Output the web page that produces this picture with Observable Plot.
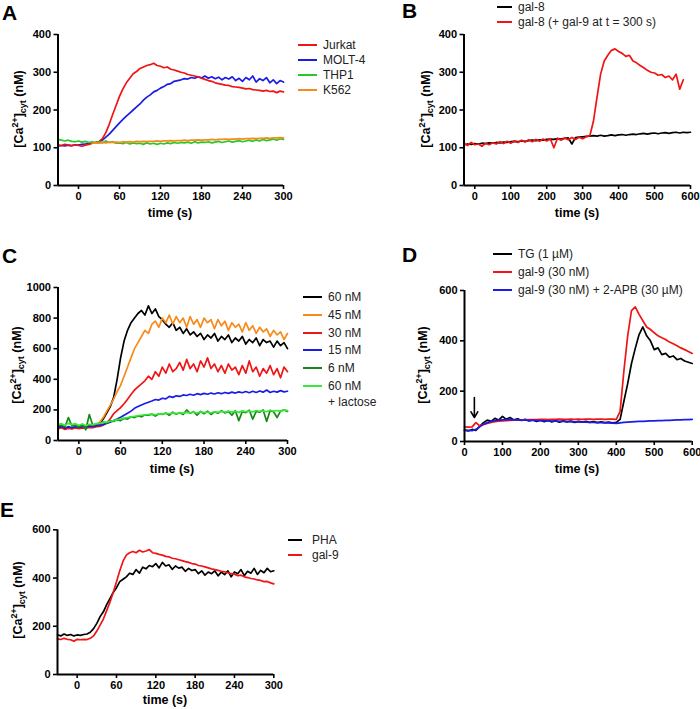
<!DOCTYPE html>
<html><head><meta charset="utf-8">
<script src="https://cdn.jsdelivr.net/npm/d3@7"></script>
<script src="https://cdn.jsdelivr.net/npm/@observablehq/plot@0.6"></script>
<style>
html,body{margin:0;padding:0;background:#fff;}
#fig{position:relative;width:700px;height:709px;font-family:"Liberation Sans",Arial,sans-serif;overflow:hidden;background:#fff;}
#fig svg{position:absolute;overflow:visible;}
.letter{position:absolute;font-weight:bold;font-size:21px;line-height:1;color:#000;}
.ylab{position:absolute;font-weight:bold;font-size:12.5px;white-space:nowrap;transform:translate(-50%,-50%) rotate(-90deg);line-height:1;color:#000;}
.ylab sup,.ylab sub{font-size:9px;line-height:0;}
.xlab{position:absolute;font-weight:bold;font-size:12.5px;transform:translate(-50%,-50%);white-space:nowrap;line-height:1;color:#000;}
.legt{position:absolute;font-size:12px;color:#222;white-space:nowrap;line-height:1;transform:translateY(-50%);}
.sw{position:absolute;height:2px;}
</style></head>
<body><div id="fig"></div>
<script>
// ---------- Panel A (time -30..300 s, step 5) ----------
const tA = d3.range(-30, 301, 5);
const jurkat = [108,106,109,107,105,108,
106,104,107,109,112,114,116,124,140,162,
188,212,236,256,272,284,296,302,310,314,
318,320,324,318,316,312,314,308,306,303,
300,298,294,292,290,288,284,281,278,276,
272,270,268,266,265,262,261,260,258,256,
257,254,253,252,250,252,249,250,246,250,
248];
const molt4 = [104,106,105,107,106,108,
107,109,110,111,112,114,116,120,128,136,
146,156,166,175,184,192,200,208,216,226,
234,240,248,252,258,262,268,270,276,278,
280,283,282,286,284,288,285,290,284,288,
283,287,280,286,282,288,278,284,276,286,
280,290,274,283,278,286,272,280,270,278,
274];
const thp1 = [122,120,118,120,117,116,
118,115,117,114,116,114,116,113,118,114,
116,112,113,111,114,110,113,111,112,109,
113,110,112,109,112,110,113,111,114,112,
114,113,115,112,116,113,115,114,116,113,
115,117,114,116,118,115,117,119,116,118,
120,117,121,118,122,119,121,123,120,124,
122];
const tK562 = d3.range(20, 301, 5);
const k562 = [112,113,112,114,113,115,114,115,
114,116,115,116,115,117,116,117,116,117,
117,118,117,118,118,119,118,119,119,120,
119,120,120,121,120,121,121,122,121,122,
122,123,122,123,123,124,123,124,124,125,
124,125,125,126,125,126,126,127,126];

// ---------- Panel B ----------
const tB8 = d3.range(-30, 601, 10);
const gal8 = [108,110,109,
111,110,112,111,113,112,114,113,115,114,
116,117,116,118,117,119,120,119,121,120,
122,123,122,124,123,125,126,110,127,128,
129,130,131,132,131,133,131,132,134,132,
134,135,133,135,136,135,137,138,136,138,
139,137,139,140,138,140,141,139,141,140,
141];
const tB9 = d3.range(-30, 581, 10);
const gal8gal9 = [112,106,114,
108,110,104,112,108,113,110,116,111,117,
112,118,114,120,115,121,116,122,117,123,
118,124,100,125,120,126,121,127,122,128,
124,129,132,170,234,295,330,345,358,362,
355,350,342,345,330,325,318,312,305,300,
298,292,294,286,290,280,295,255,280];

// ---------- Panel C (time -30..300 s, step 5) ----------
const tC = d3.range(-30, 301, 5);
const c60 = [80,95,75,90,78,88,
80,92,82,95,90,100,110,140,180,220,
280,400,540,650,720,770,800,830,850,820,
880,830,860,810,790,760,740,770,720,740,
700,730,690,710,680,700,660,690,670,700,
650,680,660,690,640,670,650,680,630,660,
640,670,620,660,640,650,610,650,620,640,
600];
const c45 = [85,80,88,78,86,82,
84,80,86,90,92,100,120,150,190,230,
270,320,360,420,480,540,600,640,680,720,
700,760,780,740,800,770,820,760,810,770,
800,740,810,760,790,740,800,770,790,730,
790,750,780,720,770,740,760,710,770,720,
750,700,740,710,730,680,720,690,710,660,
700];
const c30 = [75,85,72,80,76,84,
78,82,80,86,84,90,92,100,115,140,
175,195,215,240,270,300,330,350,370,390,
420,400,450,420,480,440,500,450,470,510,
460,530,470,500,450,520,480,540,470,500,
450,490,440,500,460,480,430,490,440,520,
450,480,420,470,440,490,430,470,410,480,
450];
const c15 = [85,90,82,88,84,90,
86,92,88,94,92,96,100,105,112,120,
130,140,152,165,178,192,210,222,232,242,
250,258,268,264,276,272,288,282,292,288,
298,294,302,296,306,300,308,302,310,304,
312,306,314,308,316,310,318,312,320,312,
322,314,324,316,330,314,322,316,326,318,
322];
const c6 = [95,100,90,150,95,100,
88,105,70,170,100,108,112,120,115,128,
125,135,130,145,140,155,150,160,155,168,
165,172,160,175,170,180,165,185,172,182,
170,200,178,188,165,190,175,192,170,188,
178,195,180,190,165,195,130,190,182,198,
140,190,185,200,125,195,188,150,192,200,
190];
const c60lac = [105,110,100,112,104,110,
100,108,98,106,104,110,112,118,120,126,
130,136,140,146,150,155,158,162,165,168,
170,172,168,175,172,178,175,180,176,182,
178,184,180,186,180,188,182,186,180,188,
184,190,185,192,186,190,184,194,188,192,
186,196,190,194,188,198,192,196,190,200,
195];

// ---------- Panel D (time 0..600 s, step 10) ----------
const tD = d3.range(0, 601, 10);
const tg = [45,42,48,44,60,75,85,80,92,85,
100,88,95,86,90,84,88,82,86,80,
85,79,84,78,83,77,82,78,81,76,
80,77,80,76,79,75,78,75,77,74,
76,88,160,230,310,370,425,455,420,400,
365,372,345,350,335,340,325,330,320,315,
310];
const dgal9 = [58,57,58,75,62,68,72,76,79,81,
82,83,84,85,85,86,86,87,87,87,
88,88,87,88,88,89,88,88,89,88,
89,88,89,89,88,89,89,88,89,89,
88,120,280,420,520,535,505,480,455,445,
432,420,412,405,395,388,380,372,365,358,
350];
const dgal9apb = [45,44,43,48,58,68,75,80,83,85,
86,87,87,86,86,85,85,84,84,83,
83,82,82,81,81,80,80,79,79,78,
78,77,77,76,76,75,75,74,74,73,
72,74,76,77,78,79,80,80,81,82,
82,83,83,84,84,85,86,86,87,87,
88];
const arrowD = [{t: 26, from: 175, to: 95}];

// ---------- Panel E (time -30..300 s, step 5) ----------
const tE = d3.range(-30, 301, 5);
const pha = [165,160,168,162,166,160,
164,162,166,168,175,190,212,240,260,290,
315,340,360,385,395,405,420,415,435,420,
445,438,452,447,460,442,465,450,455,436,
450,441,445,428,440,431,435,418,430,412,
425,418,430,409,425,414,430,405,425,418,
435,410,428,420,440,415,432,422,440,426,
430];
const egal9 = [148,145,150,146,144,138,
146,144,146,145,150,160,180,205,230,265,
300,340,385,430,470,495,505,510,505,515,
508,512,518,505,502,498,495,490,488,482,
480,476,472,468,465,460,458,452,450,446,
442,438,435,432,428,426,422,418,416,410,
412,405,402,398,396,392,390,385,386,380,
376];

// ---------- colours ----------
const RED = "#f01414", BLUE = "#1c1ce6", GREEN = "#26c926", ORANGE = "#f88a1c",
      DKGREEN = "#138a13", LTGREEN = "#3ae63a", BLACK = "#000";

const fig = document.getElementById("fig");
const mk = (times, values) => values.map((v, i) => ({t: times[i], v}));

function panel(c) {
  const svg = Plot.plot({
    width: c.w, height: c.h,
    marginLeft: c.ml, marginRight: c.mr, marginTop: c.mt, marginBottom: c.mb,
    x: {domain: c.xd}, y: {domain: c.yd},
    style: {fontFamily: "'Liberation Sans', Arial, sans-serif", fontSize: "11px", fontWeight: "bold", color: "#000", background: "transparent", overflow: "visible"},
    marks: [
      ...c.lines.map(s => Plot.line(mk(s.t, s.v), {x: "t", y: "v", stroke: s.color, strokeWidth: 1.7})),
      ...(c.extra || []),
      Plot.ruleX([c.xd[0]], {y1: c.yd[0], y2: c.yd[1], strokeWidth: 2}),
      Plot.ruleY([c.yd[0]], {x1: c.xd[0], x2: c.xd[1], strokeWidth: 2}),
      Plot.axisX({ticks: c.xt, tickFormat: d => String(d), tickSize: 4, tickPadding: 3, label: null, strokeWidth: 1.6}),
      Plot.axisY({ticks: c.yt, tickFormat: d => String(d), tickSize: 4, tickPadding: 3, label: null, strokeWidth: 1.6})
    ]
  });
  svg.style.left = c.left + "px";
  svg.style.top = c.top + "px";
  fig.appendChild(svg);
}

function text(cls, html, x, y) {
  const d = document.createElement("div");
  d.className = cls; d.innerHTML = html;
  d.style.left = x + "px"; d.style.top = y + "px";
  fig.appendChild(d);
}
function legend(items, x1, x2, tx, ys, thick) {
  items.forEach((it, i) => {
    const s = document.createElement("div");
    s.className = "sw";
    s.style.left = x1 + "px"; s.style.width = (x2 - x1) + "px";
    s.style.top = (ys[i] - (thick || 2) / 2) + "px"; s.style.height = (thick || 2) + "px";
    s.style.background = it.color;
    fig.appendChild(s);
    text("legt", it.label, tx, ys[i]);
  });
}
const YLAB = "[Ca<sup>2+</sup>]<sub>cyt</sub> (nM)";

// Panel A
panel({left: 0, top: 0, w: 300, h: 225, ml: 57.5, mr: 17, mt: 34, mb: 40,
  xd: [-30, 300], yd: [0, 400], xt: [0, 60, 120, 180, 240, 300], yt: [0, 100, 200, 300, 400],
  lines: [{t: tA, v: molt4, color: BLUE}, {t: tA, v: jurkat, color: RED},
          {t: tA, v: thp1, color: GREEN}, {t: tK562, v: k562, color: ORANGE}]});
text("letter", "A", 2, 2);
text("ylab", YLAB, 19, 109);
text("xlab", "time (s)", 170, 213);
legend([{label: "Jurkat", color: RED}, {label: "MOLT-4", color: BLUE}, {label: "THP1", color: GREEN}, {label: "K562", color: ORANGE}],
  298, 317, 323, [45, 60, 75, 89.5]);

// Panel B
panel({left: 350, top: 0, w: 350, h: 225, ml: 113.5, mr: 10, mt: 34, mb: 40,
  xd: [-30, 600], yd: [0, 400], xt: [0, 100, 200, 300, 400, 500, 600], yt: [0, 100, 200, 300, 400],
  lines: [{t: tB8, v: gal8, color: BLACK}, {t: tB9, v: gal8gal9, color: RED}]});
text("letter", "B", 402, 0);
text("ylab", YLAB, 426, 109);
text("xlab", "time (s)", 577, 213);
legend([{label: "gal-8", color: BLACK}, {label: "gal-8 (+ gal-9 at t = 300 s)", color: RED}],
  497, 512, 518, [7, 22]);

// Panel C
panel({left: 0, top: 230, w: 300, h: 240, ml: 57.5, mr: 13, mt: 57, mb: 30,
  xd: [-30, 300], yd: [0, 1000], xt: [0, 60, 120, 180, 240, 300], yt: [0, 200, 400, 600, 800, 1000],
  lines: [{t: tC, v: c60, color: BLACK}, {t: tC, v: c45, color: ORANGE}, {t: tC, v: c30, color: RED},
          {t: tC, v: c15, color: BLUE}, {t: tC, v: c6, color: DKGREEN}, {t: tC, v: c60lac, color: LTGREEN}]});
text("letter", "C", 2, 245);
text("ylab", YLAB, 17, 365);
text("xlab", "time (s)", 172, 469);
legend([{label: "60 nM", color: BLACK}, {label: "45 nM", color: ORANGE}, {label: "30 nM", color: RED},
        {label: "15 nM", color: BLUE}, {label: "6 nM", color: DKGREEN}, {label: "60 nM", color: LTGREEN}],
  303, 322, 328, [297, 315, 333, 350, 368, 386]);
text("legt", "+ lactose", 328, 402);

// Panel D
panel({left: 350, top: 230, w: 350, h: 240, ml: 114, mr: 8.3, mt: 60, mb: 29,
  xd: [0, 600], yd: [0, 600], xt: [0, 100, 200, 300, 400, 500, 600], yt: [0, 200, 400, 600],
  lines: [{t: tD, v: tg, color: BLACK}, {t: tD, v: dgal9, color: RED}, {t: tD, v: dgal9apb, color: BLUE}],
  extra: [Plot.arrow(arrowD, {x1: "t", x2: "t", y1: "from", y2: "to", stroke: "#000", strokeWidth: 1.6, headLength: 7})]});
text("letter", "D", 402, 244);
text("ylab", YLAB, 423, 365);
text("xlab", "time (s)", 577, 469);
legend([{label: "TG (1 µM)", color: BLACK}, {label: "gal-9 (30 nM)", color: RED}, {label: "gal-9 (30 nM) + 2-APB (30 µM)", color: BLUE}],
  493, 512, 518, [254, 272, 290], 2.5);

// Panel E
panel({left: 0, top: 470, w: 300, h: 239, ml: 57, mr: 26.7, mt: 59.3, mb: 35,
  xd: [-30, 300], yd: [0, 600], xt: [0, 60, 120, 180, 240, 300], yt: [0, 200, 400, 600],
  lines: [{t: tE, v: pha, color: BLACK}, {t: tE, v: egal9, color: RED}]});
text("letter", "E", 0, 499);
text("ylab", YLAB, 18, 600);
text("xlab", "time (s)", 165, 700);
legend([{label: "PHA", color: BLACK}, {label: "gal-9", color: RED}],
  288, 302, 312, [540, 555]);
</script></body></html>
